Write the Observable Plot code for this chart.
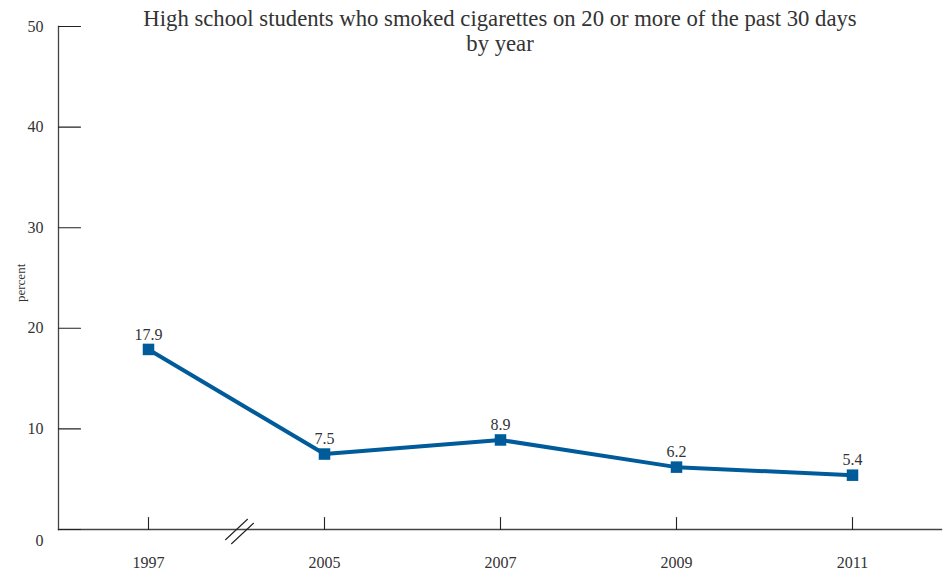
<!DOCTYPE html>
<html>
<head>
<meta charset="utf-8">
<script src="https://cdn.jsdelivr.net/npm/d3@7"></script>
<script src="https://cdn.jsdelivr.net/npm/@observablehq/plot@0.6"></script>
<style>
  html, body { margin: 0; padding: 0; background: #fff; }
  #chart svg { display: block; }
</style>
</head>
<body>
<div id="chart"></div>
<script>
const years = ["1997", "2005", "2007", "2009", "2011"];
const percents = [17.9, 7.5, 8.9, 6.2, 5.4];
const labels = ["17.9", "7.5", "8.9", "6.2", "5.4"];
const yTicks = [0, 10, 20, 30, 40, 50];
const yTickLabels = ["0", "10", "20", "30", "40", "50"];
const titleText = "High school students who smoked cigarettes on 20 or more of the past 30 days\nby year";
const yLabel = "percent";

const data = years.map((y, i) => ({year: y, value: percents[i], label: labels[i]}));
const yTickData = yTicks.map((v, i) => ({v, label: yTickLabels[i]}));

const font = "Liberation Serif";
const axisColor = "#444";
const textColor = "#333";
const lineColor = "#005b9a";

const tickLine = {draw(context, l) { context.moveTo(0, 0); context.lineTo(0, -l); }};

const chart = Plot.plot({
  width: 948,
  height: 573,
  marginLeft: 58,
  marginRight: 7,
  marginTop: 26,
  marginBottom: 44,
  style: {fontFamily: font, background: "#fff"},
  x: {type: "point", domain: years, padding: 0.495, axis: null},
  y: {domain: [0, 50], axis: null},
  marks: [
    Plot.frame({anchor: "left", stroke: axisColor, strokeWidth: 1.3}),
    Plot.frame({anchor: "bottom", stroke: axisColor, strokeWidth: 1.3}),
    // y ticks (inward)
    Plot.vector(yTickData, {y: "v", frameAnchor: "left", rotate: 90, length: 22, anchor: "start", shape: tickLine, stroke: "#222", strokeWidth: 1.1}),
    // y tick labels
    Plot.text(yTickData.filter(d => d.v !== 0), {y: "v", text: "label", frameAnchor: "left", dx: -15, textAnchor: "end", fontSize: 16, fontFamily: font, fill: textColor}),
    Plot.text(yTickData.filter(d => d.v === 0), {y: "v", text: "label", frameAnchor: "left", dx: -15, dy: 11, textAnchor: "end", fontSize: 16, fontFamily: font, fill: textColor}),
    // x ticks (upward)
    Plot.vector(years, {x: d => d, frameAnchor: "bottom", rotate: 0, length: 12, anchor: "start", shape: tickLine, stroke: "#222", strokeWidth: 1.1}),
    // x tick labels
    Plot.text(years, {x: d => d, text: d => d, frameAnchor: "bottom", dy: 38, fontSize: 16, fontFamily: font, fill: textColor}),
    // axis break marks
    Plot.vector([0], {x: () => "1997", y: () => 0, dx: 88, rotate: 47, length: 30, anchor: "middle", shape: tickLine, stroke: "#222", strokeWidth: 1.1}),
    Plot.vector([0], {x: () => "1997", y: () => 0, dx: 94, dy: 4, rotate: 47, length: 30, anchor: "middle", shape: tickLine, stroke: "#222", strokeWidth: 1.1}),
    // y label
    Plot.text([yLabel], {frameAnchor: "left", dx: -38, dy: 24, rotate: -90, fontSize: 13, fontFamily: font, fill: textColor}),
    // title
    Plot.text([titleText], {frameAnchor: "top", dy: -19, lineAnchor: "top", lineHeight: 1.12, fontSize: 22.7, fontFamily: font, fill: textColor}),
    // data
    Plot.line(data, {x: "year", y: "value", stroke: lineColor, strokeWidth: 4, strokeLinejoin: "round"}),
    Plot.dot(data, {x: "year", y: "value", symbol: "square", r: 6.5, fill: lineColor}),
    Plot.text(data, {x: "year", y: "value", text: "label", dy: -15, fontSize: 16, fontFamily: font, fill: textColor})
  ]
});
document.getElementById("chart").appendChild(chart);
</script>
</body>
</html>
